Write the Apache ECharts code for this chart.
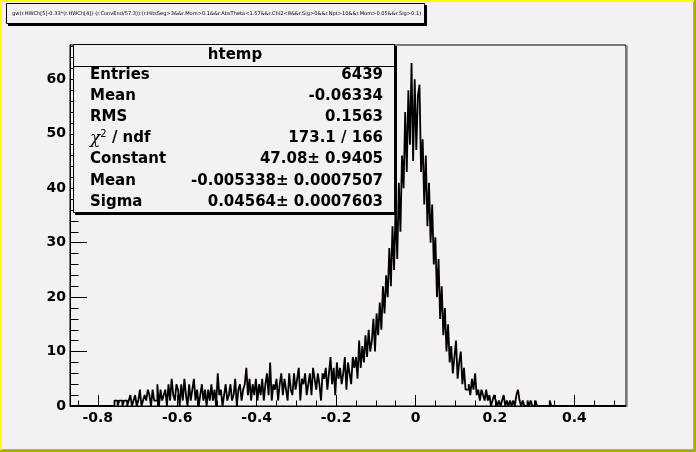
<!DOCTYPE html>
<html><head><meta charset="utf-8">
<script src="https://cdn.jsdelivr.net/npm/echarts@6/dist/echarts.min.js"></script>
<style>html,body{margin:0;padding:0;background:#f4f0f4}#c{width:696px;height:452px}</style>
</head><body><div id="c"></div><script>
// ---- data ----
const histName = 'htemp';
const plotTitle = 'gw(r.HWCh[5]-0.33*(r.HWCh[4])-(r.ConvEnd/57.3)):(r.HitsSeg>3&&r.Mom>0.1&&r.AbsTheta<1.57&&r.Chi2<8&&r.Sig>0&&r.Npt>10&&r.Mom>0.05&&r.Sig>0.1)';
const xMin = -0.87, xMax = 0.53, binWidth = 0.004;
const counts = [
 0,0,0,0,0,0,0,0,0,0,
 0,0,0,0,0,0,0,0,0,0,
 0,0,0,0,0,0,0,0,1,1,
 0,1,1,0,1,1,0,1,2,0,
 1,2,0,1,3,0,1,2,1,3,
 2,0,3,1,1,4,0,3,1,2,
 3,0,4,1,5,2,1,4,3,0,
 4,1,5,2,0,4,1,3,5,1,
 3,0,2,4,1,3,0,3,1,4,
 1,3,0,6,2,3,0,2,4,1,
 2,4,1,2,5,0,3,4,1,3,
 4,7,2,5,1,4,2,5,1,4,
 2,5,1,4,6,2,8,1,4,3,
 5,1,4,6,2,5,3,1,6,3,
 2,6,3,5,7,1,5,4,6,2,
 4,6,2,7,5,3,6,4,1,6,
 5,7,3,6,9,4,7,2,8,5,
 7,4,6,9,3,8,6,4,9,7,
 9,5,12,7,11,8,13,9,14,10,
 12,16,10,17,13,19,14,22,17,24,
 20,29,22,33,25,37,27,41,32,46,
 40,54,43,58,48,63,45,60,47,57,
 59,43,49,37,46,33,41,30,37,26,
 31,20,27,16,22,13,18,10,15,8,
 11,6,9,12,5,8,10,4,7,3,
 3,4,2,5,3,6,2,3,1,3,
 2,1,3,1,2,0,1,2,1,0,
 1,0,1,2,0,1,0,1,0,1,
 0,2,3,1,0,1,0,0,1,0,
 1,0,0,1,0,0,0,0,0,0,
 0,0,1,0,0,0,0,0,0,0,
 0,0,0,0,0,0,0,0,0,0,
 0,0,0,0,0,0,0,0,0,0,
 0,0,0,0,0,0,0,0,0,0,
 0,0,0,0,0,0,0,0,0,0
];
const xTickLabels = [-0.8, -0.6, -0.4, -0.2, 0, 0.2, 0.4];
const yTickLabels = [0, 10, 20, 30, 40, 50, 60];
const statLabels = ['Entries', 'Mean', 'RMS', 'CHI', 'Constant', 'Mean', 'Sigma'];
const statValues = ['6439', '-0.06334', '0.1563', '173.1 / 166', '47.08\u00b1 0.9405', '-0.005338\u00b1 0.0007507', '0.04564\u00b1 0.0007603'];

// ---- build ----
const yMax = 66.3;
const histData = counts.map((c, i) => [xMin + i * binWidth, c]);
histData.push([xMax, counts[counts.length - 1]]);
const xMinor = []; for (let k = -17; k <= 10; k++) xMinor.push(+(k * 0.05).toFixed(2));
const yMinor = []; for (let k = 0; k <= 33; k++) yMinor.push(k * 2);

const BG = '#f4f0f4';
const FF = '"DejaVu Sans", sans-serif';
const chart = echarts.init(document.getElementById('c'), null, {renderer: 'canvas'});

const gL = 70, gT = 45, gW = 556, gH = 361;
const graphics = [];
// canvas bevel
graphics.push({type:'rect', shape:{x:0,y:0,width:696,height:2}, style:{fill:'#ffff00'}, z:100, silent:true});
graphics.push({type:'rect', shape:{x:0,y:0,width:2,height:452}, style:{fill:'#ffff00'}, z:100, silent:true});
graphics.push({type:'rect', shape:{x:694,y:0,width:2,height:452}, style:{fill:'#acac00'}, z:100, silent:true});
graphics.push({type:'rect', shape:{x:0,y:450,width:696,height:2}, style:{fill:'#acac00'}, z:100, silent:true});
graphics.push({type:'rect', shape:{x:693,y:2,width:1,height:448}, style:{fill:'#a8a4b0'}, z:100, silent:true});
graphics.push({type:'rect', shape:{x:2,y:449,width:692,height:1}, style:{fill:'#a8a4b0'}, z:100, silent:true});
// frame shadow
graphics.push({type:'rect', shape:{x:gL+gW+1,y:gT+1,width:1,height:gH}, style:{fill:'#a0a0a0'}, z:50, silent:true});
// title box
graphics.push({type:'rect', shape:{x:8,y:5,width:419,height:21}, style:{fill:'#000'}, z:100, silent:true});
graphics.push({type:'rect', shape:{x:6.5,y:3.5,width:418,height:20}, style:{fill:BG, stroke:'#000', lineWidth:1}, z:101, silent:true});
graphics.push({type:'text', x:12, y:14, style:{text:plotTitle, font:'5.1px ' + FF, fill:'#000', verticalAlign:'middle', align:'left'}, z:102, silent:true});
// stats box
graphics.push({type:'rect', shape:{x:75,y:46,width:322,height:169}, style:{fill:'#000'}, z:100, silent:true});
graphics.push({type:'rect', shape:{x:73.5,y:44.5,width:321,height:168}, style:{fill:BG, stroke:'#000', lineWidth:1}, z:101, silent:true});
graphics.push({type:'line', shape:{x1:73,y1:66.5,x2:395,y2:66.5}, style:{stroke:'#000', lineWidth:1}, z:102, silent:true});
graphics.push({type:'text', x:235, y:55, style:{text:histName, font:'bold 15px ' + FF, fill:'#000', align:'center', verticalAlign:'middle'}, z:102, silent:true});
statLabels.forEach((lab, i) => {
  const y = 74.7 + i * 21.2;
  if (lab === 'CHI') {
    graphics.push({type:'text', x:90, y:y, style:{
      text:'{c|\u03c7}{s|2}{n| / ndf}', verticalAlign:'middle', align:'left', fill:'#000',
      rich:{
        c:{fontFamily:'"DejaVu Serif"', fontStyle:'italic', fontSize:17, fill:'#000'},
        s:{fontFamily:FF, fontSize:10, verticalAlign:'top', fill:'#000'},
        n:{fontFamily:FF, fontWeight:'bold', fontSize:15, fill:'#000'}
      }}, z:102, silent:true});
  } else {
    graphics.push({type:'text', x:90, y:y, style:{text:lab, font:'bold 15px ' + FF, fill:'#000', align:'left', verticalAlign:'middle'}, z:102, silent:true});
  }
  graphics.push({type:'text', x:383, y:y, style:{text:statValues[i], font:'bold 15px ' + FF, fill:'#000', align:'right', verticalAlign:'middle'}, z:102, silent:true});
});

const labelStyle = {fontFamily: FF, fontWeight: 'bold', fontSize: 14, color: '#000'};
chart.setOption({
  backgroundColor: BG,
  animation: false,
  grid: {left: gL, top: gT, width: gW, height: gH, show: true, borderColor: '#000', borderWidth: 1, backgroundColor: 'transparent'},
  xAxis: [
    {type:'value', min:xMin, max:xMax, position:'bottom',
     axisLine:{show:true, onZero:false, lineStyle:{color:'#000', width:1}},
     axisTick:{show:true, inside:true, length:11, customValues:xTickLabels, lineStyle:{color:'#000'}},
     axisLabel:Object.assign({customValues:xTickLabels, margin:5, formatter:v => String(v)}, labelStyle),
     splitLine:{show:false}},
    {type:'value', min:xMin, max:xMax, position:'bottom', offset:0,
     axisLine:{show:false, onZero:false},
     axisTick:{show:true, inside:true, length:5.5, customValues:xMinor, lineStyle:{color:'#000'}},
     axisLabel:{show:false}, splitLine:{show:false}}
  ],
  yAxis: [
    {type:'value', min:0, max:yMax, position:'left',
     axisLine:{show:true, onZero:false, lineStyle:{color:'#000', width:1}},
     axisTick:{show:true, inside:true, length:17, customValues:yTickLabels, lineStyle:{color:'#000'}},
     axisLabel:Object.assign({customValues:yTickLabels, margin:4, formatter:v => String(v)}, labelStyle),
     splitLine:{show:false}},
    {type:'value', min:0, max:yMax, position:'left', offset:0,
     axisLine:{show:false, onZero:false},
     axisTick:{show:true, inside:true, length:8.5, customValues:yMinor, lineStyle:{color:'#000'}},
     axisLabel:{show:false}, splitLine:{show:false}}
  ],
  series: [{
    type:'line', step:'end', data:histData, xAxisIndex:0, yAxisIndex:0,
    symbol:'none', showSymbol:false, clip:true,
    lineStyle:{color:'#000', width:1.8}, silent:true
  }],
  graphic: graphics
});
</script></body></html>
